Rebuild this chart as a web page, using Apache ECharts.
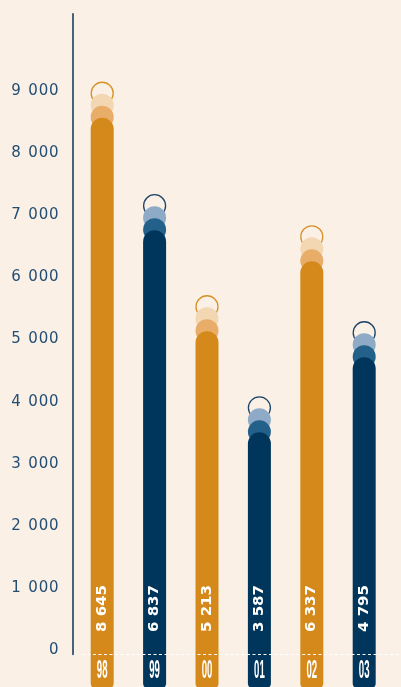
<!DOCTYPE html>
<html><head><meta charset="utf-8">
<script src="https://cdn.jsdelivr.net/npm/echarts@6/dist/echarts.min.js"></script>
<style>html,body{margin:0;padding:0;background:#faf0e6;}#c{width:401px;height:687px;}</style>
</head><body><div id="c"></div>
<script>
const categories = ['98', '99', '00', '01', '02', '03'];
const values = [8645, 6837, 5213, 3587, 6337, 4795];
const yTicks = [0, 1000, 2000, 3000, 4000, 5000, 6000, 7000, 8000, 9000];

const palettes = {
  orange: { bar: '#d4891a', mid: '#e8ad68', light: '#f3d6b2', ring: '#d8922a' },
  navy:   { bar: '#00365c', mid: '#23618a', light: '#8eaac6', ring: '#1d4468' }
};
const seriesColor = ['orange', 'navy', 'orange', 'navy', 'orange', 'navy'];

function fmt(v) { return String(v).replace(/\B(?=(\d{3})+(?!\d))/g, ' '); }

const chart = echarts.init(document.getElementById('c'), null, { renderer: 'canvas' });

chart.setOption({
  backgroundColor: '#faf0e6',
  animation: false,
  grid: { left: 76, right: 10.6, top: 13.8, bottom: 32.5 },
  xAxis: {
    type: 'category', data: categories,
    axisLine: { show: false }, axisTick: { show: false }, axisLabel: { show: false }, splitLine: { show: false }
  },
  yAxis: {
    type: 'value', min: 0, max: 10300, interval: 1000, offset: 3,
    axisLine: { show: true, lineStyle: { color: '#0f3352', width: 1.5 } },
    axisTick: { show: false }, splitLine: { show: false },
    axisLabel: {
      margin: 14, padding: [0, 0, 8, 0],
      formatter: function (v) {
        if (yTicks.indexOf(v) < 0) return '';
        const s = fmt(v);
        return s.split('').map(ch => ch === ' ' ? '{s| }' : '{d|' + ch + '}').join('');
      },
      rich: {
        d: { fontFamily: 'DejaVu Sans', fontSize: 15, color: '#234e73', padding: [0, 0.4, 0, 0.4] },
        s: { fontFamily: 'DejaVu Sans', fontSize: 15, color: '#234e73', padding: [0, 1, 0, 1] }
      }
    }
  },
  series: [
    {
      type: 'custom',
      data: values.map((v, i) => [i, v]),
      renderItem: function (params, api) {
        const i = api.value(0), v = api.value(1);
        const top = api.coord([i, v]);
        const zero = api.coord([i, 0]);
        const cx = top[0], vy = top[1], zy = zero[1];
        const p = palettes[seriesColor[params.dataIndex]];
        const hw = 11.5;
        return {
          type: 'group',
          children: [
            { type: 'circle', shape: { cx: cx, cy: vy - 23.5, r: 11 }, style: { fill: 'none', stroke: p.ring, lineWidth: 1.3 } },
            { type: 'circle', shape: { cx: cx, cy: vy - 11.5, r: hw }, style: { fill: p.light } },
            { type: 'circle', shape: { cx: cx, cy: vy + 0.5, r: hw }, style: { fill: p.mid } },
            { type: 'rect', shape: { x: cx - hw, y: vy + 1, width: hw * 2, height: zy + 34 - (vy + 1), r: [hw, hw, 5, 5] }, style: { fill: p.bar } },
            { type: 'text', x: cx, y: zy - 46, rotation: Math.PI / 2, scaleX: 1.07,
              style: { text: fmt(v), fill: '#ffffff', font: 'bold 14px "DejaVu Sans"', align: 'center', verticalAlign: 'middle' } },
            { type: 'text', x: cx, y: zy + 17, scaleX: 0.4, scaleY: 1.05,
              style: { text: categories[i], fill: '#ffffff', font: 'bold 24px "Liberation Sans"', align: 'center', verticalAlign: 'middle' } }
          ]
        };
      },
      z: 2
    },
    {
      type: 'custom',
      data: [[0, 0]],
      renderItem: function (params, api) {
        const zy = api.coord([0, 0])[1];
        return { type: 'line', shape: { x1: 82, y1: zy, x2: 401, y2: zy }, style: { stroke: '#ffffff', lineWidth: 1, lineDash: [3, 2.5] } };
      },
      z: 3
    }
  ]
});
</script></body></html>
